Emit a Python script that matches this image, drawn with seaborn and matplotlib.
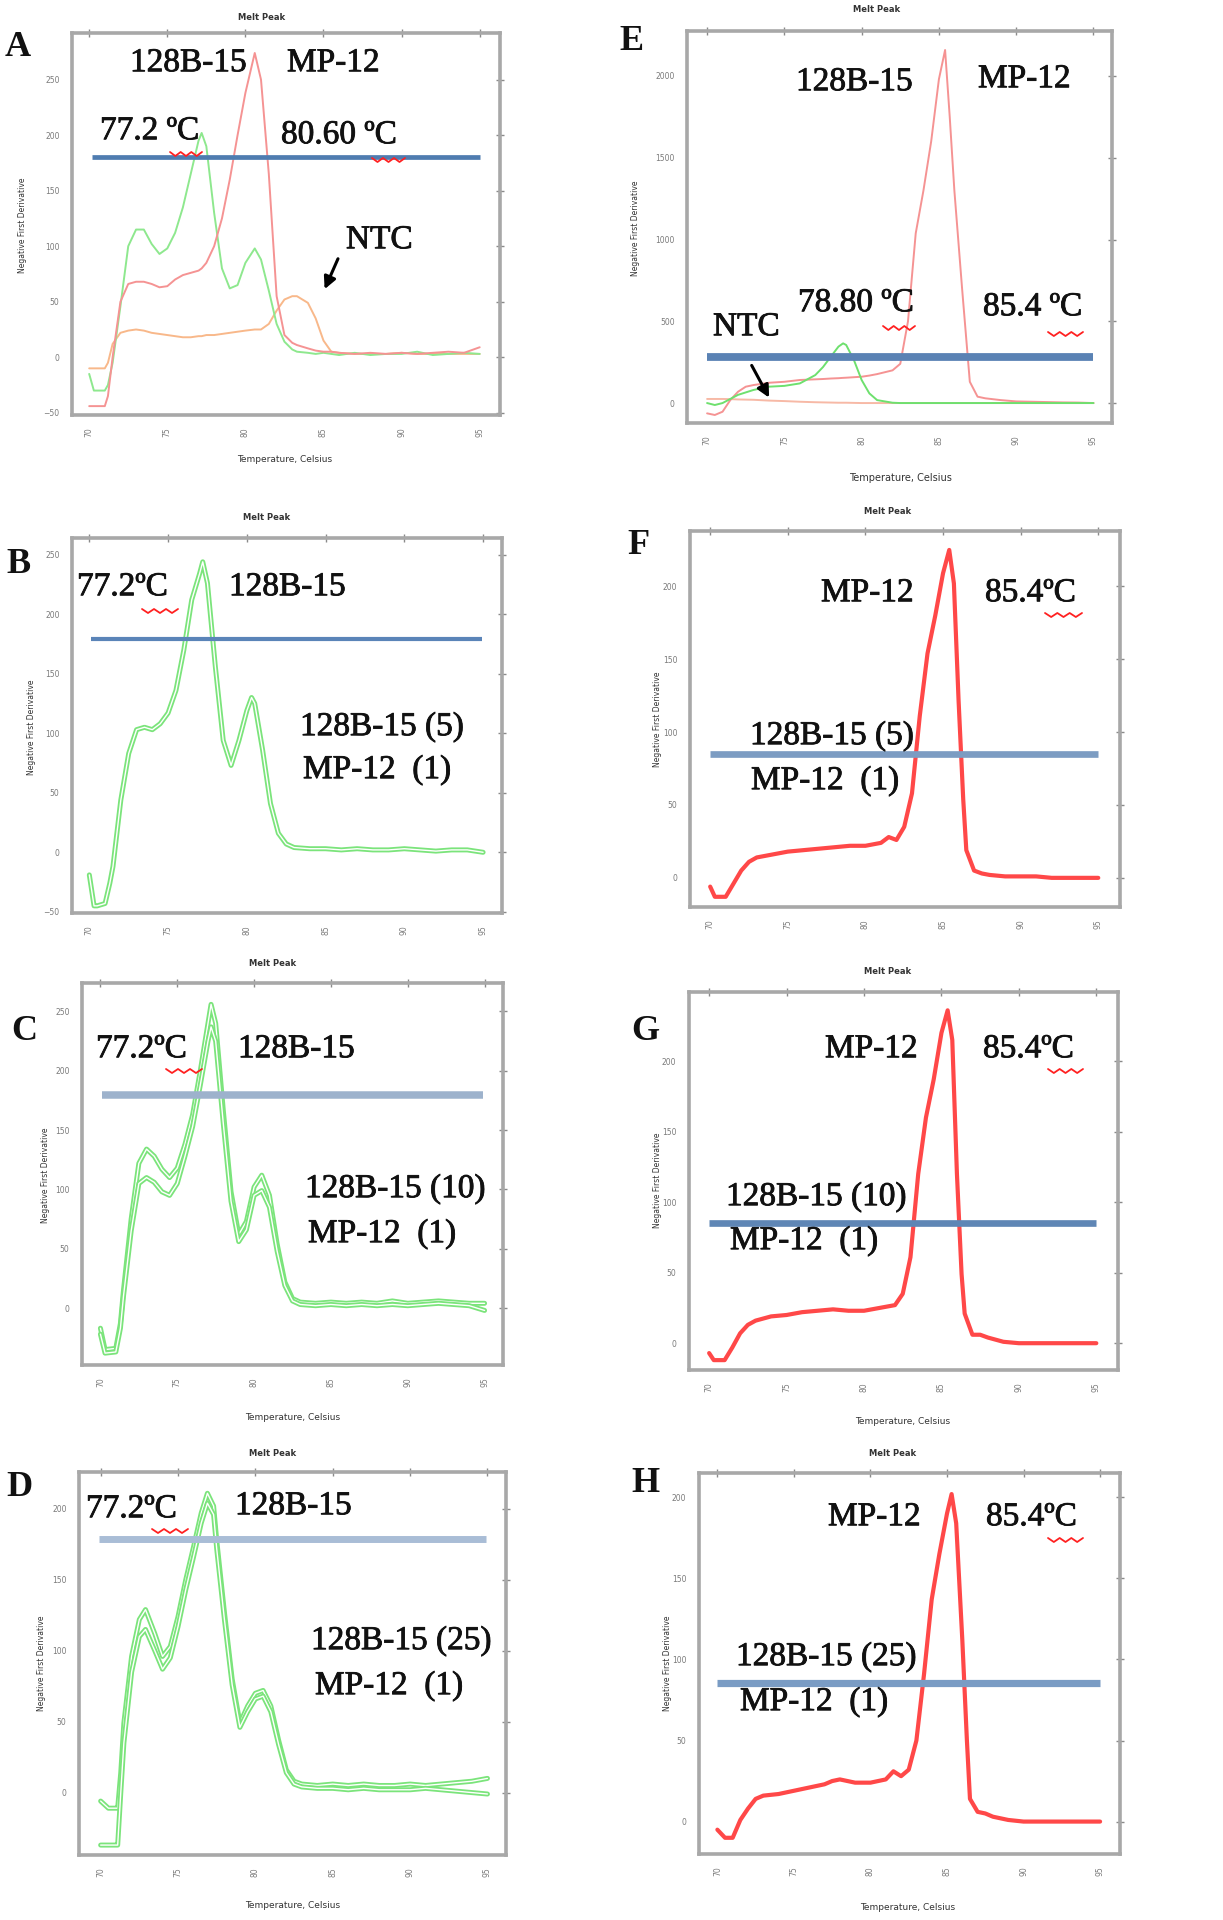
import numpy as np
import pandas as pd
import matplotlib
matplotlib.use("Agg")
import matplotlib.pyplot as plt
import matplotlib.patheffects as pe
from matplotlib.lines import Line2D
import seaborn as sns

# --- data (temperature in C, -dF/dT) ---

A_temp = [70, 70.3, 71, 71.2, 71.5, 72, 72.5, 73, 73.5, 74, 74.5, 75, 75.5, 76, 76.5,
          77, 77.2, 77.5, 78, 78.5, 79, 79.5, 80, 80.6, 81, 81.5, 82, 82.5, 83, 83.3,
          84, 84.5, 85, 85.5, 86, 87, 88, 89, 90, 91, 92, 93, 94, 95]
A_green = [-15, -30, -30, -25, -5, 46, 100, 115, 115, 102, 93, 98, 112, 135, 165,
           195, 202, 190, 130, 80, 62, 65, 85, 98, 88, 60, 30, 14, 7, 5,
           4, 3, 4, 3, 2, 4, 2, 3, 3, 5, 2, 3, 4, 3]
A_red = [-44, -44, -44, -35, 0, 50, 66, 68, 68, 66, 63, 64, 70, 74, 76,
         78, 80, 85, 100, 125, 160, 200, 238, 274, 250, 165, 55, 20, 13, 11,
         8, 6, 5, 5, 4, 3, 4, 3, 4, 3, 4, 5, 4, 9]
A_ntc = [-10, -10, -10, -5, 12, 22, 24, 25, 24, 22, 21, 20, 19, 18, 18,
         19, 19, 20, 20, 21, 22, 23, 24, 25, 25, 30, 42, 52, 55, 55,
         49, 35, 15, 5, 4, 3, 3, 3, 4, 3, 3, 3, 3, 3]

E_temp = [70, 70.5, 71, 71.5, 72, 72.5, 73, 74, 75, 76, 77, 77.5, 78, 78.5, 78.8,
          79, 79.5, 80, 80.5, 81, 82, 82.5, 83, 83.5, 84, 84.5, 85, 85.4, 85.7,
          86, 86.5, 87, 87.5, 88, 89, 90, 91, 92, 93, 94, 95]
E_red = [-63, -73, -53, 18, 69, 100, 110, 124, 130, 141, 145, 147, 150, 152, 154,
         155, 158, 161, 168, 177, 200, 240, 500, 1038, 1300, 1600, 1980, 2159, 1750,
         1300, 700, 130, 39, 29, 18, 10, 8, 6, 4, 3, 0]
E_green = [0, -12, 0, 25, 50, 65, 80, 100, 105, 120, 171, 220, 283, 345, 365,
           355, 263, 141, 59, 18, 2, 0, 0, 0, 0, 0, 0, 0, 0,
           0, 0, 0, 0, 0, 0, 0, 0, 0, 0, 0, 0]
E_ntc = [25, 25, 25, 24, 22, 21, 20, 15, 12, 8, 5, 4, 3, 2, 2,
         2, 1, 0, 0, 0, 0, 0, 0, 0, 0, 0, 0, 0, 0,
         0, 0, 0, 0, 0, 0, 0, 0, 0, 0, 0, 0]

B_temp = [70, 70.3, 70.5, 71, 71.3, 71.5, 72, 72.5, 73, 73.5, 74, 74.5, 75, 75.5, 76,
          76.5, 77, 77.2, 77.5, 78, 78.5, 79, 79.5, 80, 80.3, 80.5, 81, 81.5, 82,
          82.5, 83, 84, 85, 86, 87, 88, 89, 90, 91, 92, 93, 94, 95]
B_green = [-19, -45, -45, -43, -26, -12, 44, 83, 103, 105, 103, 108, 117, 136, 170,
           212, 234, 244, 226, 156, 94, 73, 94, 119, 130, 125, 86, 41, 16,
           7, 4, 3, 3, 2, 3, 2, 2, 3, 2, 1, 2, 2, 0]

C_temp = [70, 70.3, 71, 71.3, 71.5, 72, 72.5, 73, 73.5, 74, 74.5, 75, 75.5, 76, 76.5,
          77, 77.2, 77.5, 78, 78.5, 79, 79.5, 80, 80.5, 81, 81.5, 82, 82.5, 83,
          84, 85, 86, 87, 88, 89, 90, 91, 92, 93, 94, 95]
C_upper = [-17, -35, -34, -13, 15, 75, 122, 134, 128, 117, 110, 118, 138, 163, 200,
           240, 256, 240, 166, 98, 62, 73, 102, 112, 95, 54, 22, 8, 5,
           4, 5, 4, 5, 4, 6, 4, 5, 6, 5, 4, 4]
C_lower = [-22, -38, -37, -17, 10, 65, 105, 110, 106, 98, 95, 105, 128, 153, 188,
           225, 237, 225, 155, 90, 56, 66, 95, 99, 85, 48, 19, 6, 3,
           2, 3, 2, 3, 2, 3, 2, 3, 4, 3, 2, -2]

D_temp = [70, 70.5, 71, 71.1, 71.3, 71.5, 72, 72.5, 72.9, 73.5, 74, 74.5, 75, 75.5, 76,
          76.5, 76.9, 77.3, 77.5, 78, 78.5, 79, 79.5, 80, 80.5, 81, 81.5, 82, 82.5,
          83, 84, 85, 86, 87, 88, 89, 90, 91, 92, 93, 94, 95]
D_upper = [-6, -11, -11, -11, 14, 49, 96, 122, 129, 112, 96, 103, 124, 150, 173,
           197, 211, 202, 178, 127, 80, 49, 61, 70, 72, 61, 37, 16, 8,
           6, 5, 6, 5, 6, 5, 5, 6, 5, 6, 7, 8, 10]
D_lower = [-37, -37, -37, -37, 0, 35, 85, 110, 115, 100, 87, 95, 117, 143, 166,
           190, 204, 196, 172, 122, 76, 46, 57, 66, 68, 57, 34, 14, 6,
           4, 3, 3, 2, 3, 2, 2, 2, 3, 2, 1, 0, -1]

FG_temp = [70, 70.3, 71, 71.5, 72, 72.5, 73, 74, 75, 76, 77, 78, 79, 80, 81, 81.5,
           82, 82.5, 83, 83.5, 84, 84.5, 85, 85.4, 85.7, 86, 86.3, 86.5, 87, 87.5,
           88, 89, 90, 91, 92, 93, 94, 95]
F_red = [-6, -13, -13, -4, 5, 11, 14, 16, 18, 19, 20, 21, 22, 22, 24, 28,
         26, 35, 58, 111, 154, 180, 209, 225, 202, 122, 54, 19, 5, 3,
         2, 1, 1, 1, 0, 0, 0, 0]
G_red = [-7, -12, -12, -3, 7, 13, 16, 19, 20, 22, 23, 24, 23, 23, 25, 26,
         27, 35, 61, 120, 160, 187, 220, 236, 215, 120, 49, 21, 6, 6,
         4, 1, 0, 0, 0, 0, 0, 0]

H_temp = [70, 70.5, 71, 71.5, 72, 72.5, 73, 74, 75, 75.5, 76, 77, 77.5, 78, 79, 80,
          81, 81.5, 82, 82.5, 83, 83.5, 84, 84.5, 85, 85.3, 85.6, 86, 86.3, 86.5,
          87, 87.5, 88, 89, 90, 91, 92, 93, 94, 95]
H_red = [-5, -10, -10, 1, 8, 14, 16, 17, 19, 20, 21, 23, 25, 26, 24, 24,
         26, 31, 28, 32, 50, 91, 137, 165, 190, 202, 184, 112, 50, 14,
         6, 5, 3, 1, 0, 0, 0, 0, 0, 0]

# threshold lines drawn on each panel (value, x from, x to)
cutoff = {"A": (180, 70.2, 95), "E": (281, 70, 95), "B": (179, 70.1, 94.9),
          "C": (180, 70.1, 94.9), "D": (179, 69.9, 94.9), "F": (85, 70, 95),
          "G": (85, 70, 95), "H": (85.5, 70, 95)}

# --- figure ---
W, H = 1223, 1920
sns.set_theme(style="white")
plt.rcParams["font.family"] = ["DejaVu Sans"]

fig = plt.figure(figsize=(W / 100, H / 100), dpi=100)
fig.patch.set_facecolor("white")

SERIF = "Liberation Serif"
INK = "#111111"


def fx(x):
    return x / W


def fy(y):
    return 1 - y / H


def panel_axes(l, r, t, b):
    return fig.add_axes([fx(l), fy(b), (r - l) / W, (b - t) / H])


def style(ax, xlim, ylim, yticks):
    ax.set_xlim(xlim)
    ax.set_ylim(ylim)
    ax.set_xticks([70, 75, 80, 85, 90, 95])
    ax.set_yticks(yticks)
    ax.tick_params(direction="inout", length=6, width=1, color="#8a8a8a",
                   labelsize=5.5, labelcolor="#7a7a7a", top=True, right=True,
                   pad=6)
    for lab in ax.get_xticklabels():
        lab.set_rotation(90)
    for s in ax.spines.values():
        s.set_color("#a8a8a8")
        s.set_linewidth(2.6)
    ax.set_xlabel("")
    ax.set_ylabel("")
    ax.set_facecolor("white")


def draw(ax, temp, series, lw=1.5, hollow=False, alpha=1.0):
    frames = []
    for name, (vals, color) in series.items():
        frames.append(pd.DataFrame({"temp": temp, "value": vals, "curve": name}))
    df = pd.concat(frames, ignore_index=True)
    palette = {name: c for name, (v, c) in series.items()}
    n0 = len(ax.lines)
    sns.lineplot(data=df, x="temp", y="value", hue="curve", palette=palette,
                 estimator=None, sort=False, legend=False, lw=lw, alpha=alpha, ax=ax)
    if hollow:
        for ln in ax.lines[n0:]:
            c = ln.get_color()
            ln.set_path_effects([pe.Stroke(linewidth=lw + 2.2, foreground=c),
                                 pe.Stroke(linewidth=1.0, foreground="white")])


def threshold(ax, key, color, lw):
    y, x0, x1 = cutoff[key]
    ax.hlines(y, x0, x1, colors=color, lw=lw, zorder=5)


def text(s, x, y, size=24, weight="normal"):
    t = fig.text(fx(x), fy(y), s, fontsize=size, family=SERIF, fontweight=weight,
                 ha="left", va="center", color=INK)
    if weight == "normal":
        t.set_path_effects([pe.Stroke(linewidth=0.6, foreground=INK), pe.Normal()])


def letter(s, x, y):
    text(s, x, y, size=26, weight="bold")


def squiggle(x0, x1, y):
    xs = np.linspace(x0, x1, 7)
    ys = [y + (4 if i % 2 else 0) for i in range(7)]
    fig.add_artist(Line2D([fx(v) for v in xs], [fy(v) for v in ys],
                          transform=fig.transFigure, color="#ff2020", lw=1.3))


def small(s, x, y, size=6, weight="bold", rot=0, color="#333333"):
    fig.text(fx(x), fy(y), s, fontsize=size, fontweight=weight, rotation=rot,
             ha="center", va="center", color=color)


GREEN_LIGHT = "#8ee88e"
GREEN = "#7be47b"
RED_LIGHT = "#f59393"
RED = "#ff3434"
ORANGE = "#f8b88a"
YLAB = "Negative First Derivative"
XLAB = "Temperature, Celsius"

# ---------------- A ----------------
ax = panel_axes(72, 500, 33, 415)
draw(ax, A_temp, {"ntc": (A_ntc, ORANGE), "green": (A_green, GREEN_LIGHT),
                  "red": (A_red, RED_LIGHT)}, lw=1.4)
style(ax, (68.9, 96.3), (-52, 292), [-50, 0, 50, 100, 150, 200, 250])
threshold(ax, "A", "#4f7cb0", 3.4)
ax.annotate("", xy=(85.0, 59), xytext=(86.0, 91),
            arrowprops=dict(arrowstyle="-|>", lw=2.2, color="black", mutation_scale=18))
small("Melt Peak", 262, 18)
small(XLAB, 285, 460, size=6.5, weight="normal")
small(YLAB, 23, 225, size=5.5, weight="normal", rot=90)
letter("A", 5, 48)
text("128B-15", 130, 63)
text("MP-12", 287, 63)
text("77.2 ºC", 100, 131)
text("80.60 ºC", 281, 135)
text("NTC", 346, 240)
squiggle(170, 202, 152)
squiggle(372, 405, 158)

# ---------------- E ----------------
ax = panel_axes(687, 1112, 31, 423)
draw(ax, E_temp, {"ntc": (E_ntc, "#f7b9a6"), "red": (E_red, RED_LIGHT),
                  "green": (E_green, "#6ee06e")}, lw=1.4)
style(ax, (68.7, 96.2), (-122, 2275), [0, 500, 1000, 1500, 2000])
threshold(ax, "E", "#5a82b4", 5.6)
ax.annotate("", xy=(74.1, 18), xytext=(72.8, 245),
            arrowprops=dict(arrowstyle="-|>", lw=2.2, color="black", mutation_scale=18))
small("Melt Peak", 877, 10)
small(XLAB, 900, 478, size=7, weight="normal")
small(YLAB, 635, 228, size=5.5, weight="normal", rot=90)
letter("E", 619, 42)
text("128B-15", 796, 82)
text("MP-12", 978, 79)
text("78.80 ºC", 798, 303)
text("85.4 ºC", 983, 307)
text("NTC", 713, 327)
squiggle(883, 915, 326)
squiggle(1048, 1083, 332)

# ---------------- B ----------------
ax = panel_axes(72, 502, 538, 913)
draw(ax, B_temp, {"b": (B_green, GREEN)}, lw=1.4, hollow=True)
style(ax, (68.9, 96.2), (-51, 264), [-50, 0, 50, 100, 150, 200, 250])
threshold(ax, "B", "#5a84b8", 3.0)
small("Melt Peak", 267, 518)
small(YLAB, 32, 727, size=5.5, weight="normal", rot=90)
letter("B", 6, 565)
text("77.2ºC", 77, 587)
text("128B-15", 229, 587)
text("128B-15 (5)", 300, 727)
text("MP-12  (1)", 303, 770)
squiggle(142, 178, 609)

# ---------------- F ----------------
ax = panel_axes(690, 1120, 531, 907)
draw(ax, FG_temp, {"f": (F_red, RED)}, lw=3.0, alpha=0.9)
style(ax, (68.7, 96.4), (-20, 238), [0, 50, 100, 150, 200])
threshold(ax, "F", "#7c9cc2", 4.8)
small("Melt Peak", 888, 512)
small(YLAB, 657, 719, size=5.5, weight="normal", rot=90)
letter("F", 627, 545)
text("MP-12", 821, 593)
text("85.4ºC", 985, 593)
text("128B-15 (5)", 750, 736)
text("MP-12  (1)", 751, 781)
squiggle(1045, 1082, 613)

# ---------------- C ----------------
ax = panel_axes(82, 503, 983, 1365)
draw(ax, C_temp, {"up": (C_upper, GREEN), "low": (C_lower, GREEN)}, lw=1.4, hollow=True)
style(ax, (68.8, 96.2), (-48, 274), [0, 50, 100, 150, 200, 250])
threshold(ax, "C", "#9db2cc", 5.4)
small("Melt Peak", 273, 963)
small(XLAB, 293, 1417, size=6.5, weight="normal")
small(YLAB, 46, 1175, size=5.5, weight="normal", rot=90)
letter("C", 11, 1031)
text("77.2ºC", 96, 1049)
text("128B-15", 238, 1049)
text("128B-15 (10)", 305, 1189)
text("MP-12  (1)", 308, 1234)
squiggle(166, 202, 1069)

# ---------------- G ----------------
ax = panel_axes(689, 1118, 992, 1370)
draw(ax, FG_temp, {"g": (G_red, RED)}, lw=3.0, alpha=0.9)
style(ax, (68.7, 96.4), (-19, 249), [0, 50, 100, 150, 200])
threshold(ax, "G", "#5f86b5", 4.8)
small("Melt Peak", 888, 972)
small(XLAB, 903, 1422, size=6.5, weight="normal")
small(YLAB, 658, 1180, size=5.5, weight="normal", rot=90)
letter("G", 631, 1031)
text("MP-12", 825, 1049)
text("85.4ºC", 983, 1049)
text("128B-15 (10)", 726, 1197)
text("MP-12  (1)", 730, 1241)
squiggle(1048, 1083, 1069)

# ---------------- D ----------------
ax = panel_axes(79, 506, 1472, 1855)
draw(ax, D_temp, {"up": (D_upper, GREEN), "low": (D_lower, GREEN)}, lw=1.4, hollow=True)
style(ax, (68.6, 96.2), (-44, 226), [0, 50, 100, 150, 200])
threshold(ax, "D", "#a9bdd6", 5.0)
small("Melt Peak", 273, 1453)
small(XLAB, 293, 1905, size=6.5, weight="normal")
small(YLAB, 42, 1663, size=5.5, weight="normal", rot=90)
letter("D", 6, 1487)
text("77.2ºC", 86, 1509)
text("128B-15", 235, 1506)
text("128B-15 (25)", 311, 1641)
text("MP-12  (1)", 315, 1686)
squiggle(152, 188, 1529)

# ---------------- H ----------------
ax = panel_axes(699, 1120, 1473, 1854)
draw(ax, H_temp, {"h": (H_red, RED)}, lw=3.0, alpha=0.9)
style(ax, (68.8, 96.3), (-20, 215), [0, 50, 100, 150, 200])
threshold(ax, "H", "#7a9cc4", 5.2)
small("Melt Peak", 893, 1453)
small(XLAB, 908, 1907, size=6.5, weight="normal")
small(YLAB, 667, 1663, size=5.5, weight="normal", rot=90)
letter("H", 631, 1483)
text("MP-12", 828, 1517)
text("85.4ºC", 986, 1517)
text("128B-15 (25)", 736, 1657)
text("MP-12  (1)", 740, 1702)
squiggle(1048, 1083, 1538)

fig.savefig("out.png", dpi=100, facecolor="white")
